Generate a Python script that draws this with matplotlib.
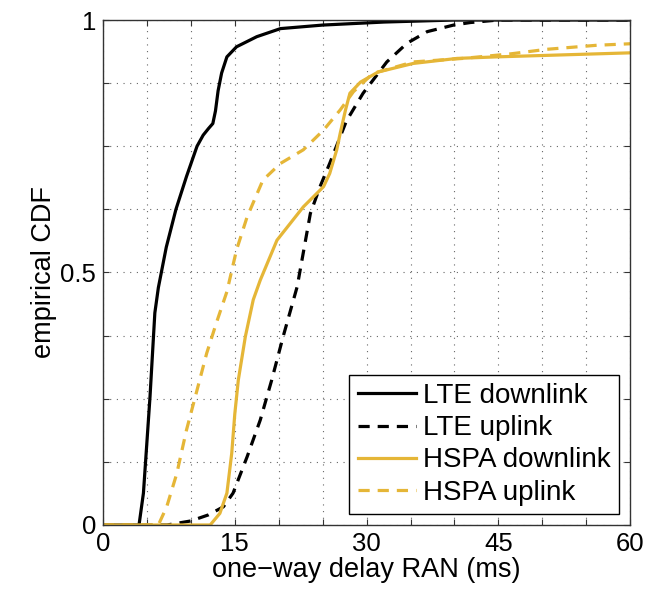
import matplotlib.pyplot as plt
import numpy as np

# ------------------- DATA ------------------- #

lte_dl_x = [0, 4.1, 4.6, 5.35, 5.9, 6.3, 7.2, 8.3, 9.5, 10.7, 11.4, 12.0, 12.5, 12.8, 13.1, 13.5, 14.1, 15.2, 17.5, 20.2, 25.0, 32.0, 40.0, 60]
lte_dl_y = [0, 0, 0.063, 0.254, 0.42, 0.47, 0.55, 0.625, 0.69, 0.75, 0.772, 0.785, 0.795, 0.82, 0.86, 0.895, 0.927, 0.947, 0.967, 0.983, 0.99, 0.996, 1.0, 1.0]

lte_ul_x = [0, 7.3, 10.0, 12.0, 13.7, 14.8, 16.4, 17.9, 19.2, 20.5, 22.1, 23.6, 24.7, 25.8, 27.7, 29.6, 32.3, 34.6, 36.9, 39.9, 41.8, 45.0, 60]
lte_ul_y = [0, 0, 0.008, 0.02, 0.036, 0.063, 0.135, 0.208, 0.287, 0.373, 0.472, 0.617, 0.67, 0.716, 0.80, 0.855, 0.917, 0.954, 0.977, 0.99, 0.995, 1.0, 1.0]

hspa_dl_x = [0, 12.2, 13.3, 14.1, 14.65, 15.0, 15.4, 16.2, 17.1, 17.9, 19.8, 22.8, 25.1, 25.8, 26.6, 27.0, 27.6, 28.1, 29.3, 31.3, 35.3, 40.3, 44.8, 52.4, 60]
hspa_dl_y = [0, 0, 0.023, 0.063, 0.142, 0.22, 0.287, 0.373, 0.446, 0.485, 0.564, 0.63, 0.67, 0.696, 0.743, 0.776, 0.822, 0.855, 0.877, 0.897, 0.914, 0.924, 0.927, 0.931, 0.935]

hspa_ul_x = [0, 6.3, 7.25, 8.4, 9.5, 10.7, 11.8, 12.9, 14.1, 15.2, 16.4, 18.2, 20.2, 22.8, 25.1, 27.0, 28.5, 30.7, 35.3, 41.0, 46.4, 50.5, 56.2, 60]
hspa_ul_y = [0, 0, 0.036, 0.102, 0.188, 0.267, 0.34, 0.40, 0.462, 0.545, 0.61, 0.683, 0.716, 0.743, 0.782, 0.822, 0.858, 0.894, 0.917, 0.924, 0.933, 0.942, 0.95, 0.953]

x_ticks = [0, 15, 30, 45, 60]
y_ticks = [0, 0.5, 1]

GOLD = '#E5B637'

# ------------------- PLOT ------------------- #

plt.rcParams['font.family'] = ['Liberation Sans', 'DejaVu Sans']

fig = plt.figure(figsize=(6.59, 5.94), dpi=100)
ax = fig.add_axes([0.1563, 0.1162, 0.8, 0.8501])

ax.plot(lte_dl_x, lte_dl_y, color='black', lw=2.3, label='LTE downlink')
ax.plot(lte_ul_x, lte_ul_y, color='black', lw=2.3, ls=(0, (3.5, 2.5)), label='LTE uplink')
ax.plot(hspa_dl_x, hspa_dl_y, color=GOLD, lw=2.3, label='HSPA downlink')
ax.plot(hspa_ul_x, hspa_ul_y, color=GOLD, lw=2.3, ls=(0, (3.5, 2.5)), label='HSPA uplink')

ax.set_xlim(0, 60)
ax.set_ylim(0, 1)

minor_x = np.arange(0, 61, 5)
minor_y = np.arange(0, 1.001, 0.125)
ax.set_xticks(minor_x)
ax.set_xticklabels([str(int(v)) if v in x_ticks else '' for v in minor_x])
ax.set_yticks(minor_y)
ax.set_yticklabels([('0.5' if v == 0.5 else str(int(v))) if v in y_ticks else '' for v in minor_y])

ax.tick_params(direction='in', length=4, width=0.8, top=True, right=True,
               labelsize=18.5, color='#333333', pad=5)
ax.grid(True, ls=(0, (1, 5)), color='#666666', lw=0.8)
for s in ax.spines.values():
    s.set_linewidth(1.0)
    s.set_color('#333333')

ax.set_xlabel('one\u2212way delay RAN (ms)', fontsize=19.5, labelpad=1)
ax.set_ylabel('empirical CDF', fontsize=19.5, labelpad=2)

leg = ax.legend(loc='lower right', fontsize=20, handlelength=2.1, handletextpad=0.25,
                labelspacing=0.22, borderpad=0.3, fancybox=False, framealpha=1,
                edgecolor='black', borderaxespad=0.4)
leg.get_frame().set_linewidth(1.0)

plt.savefig('out.png', dpi=100)
